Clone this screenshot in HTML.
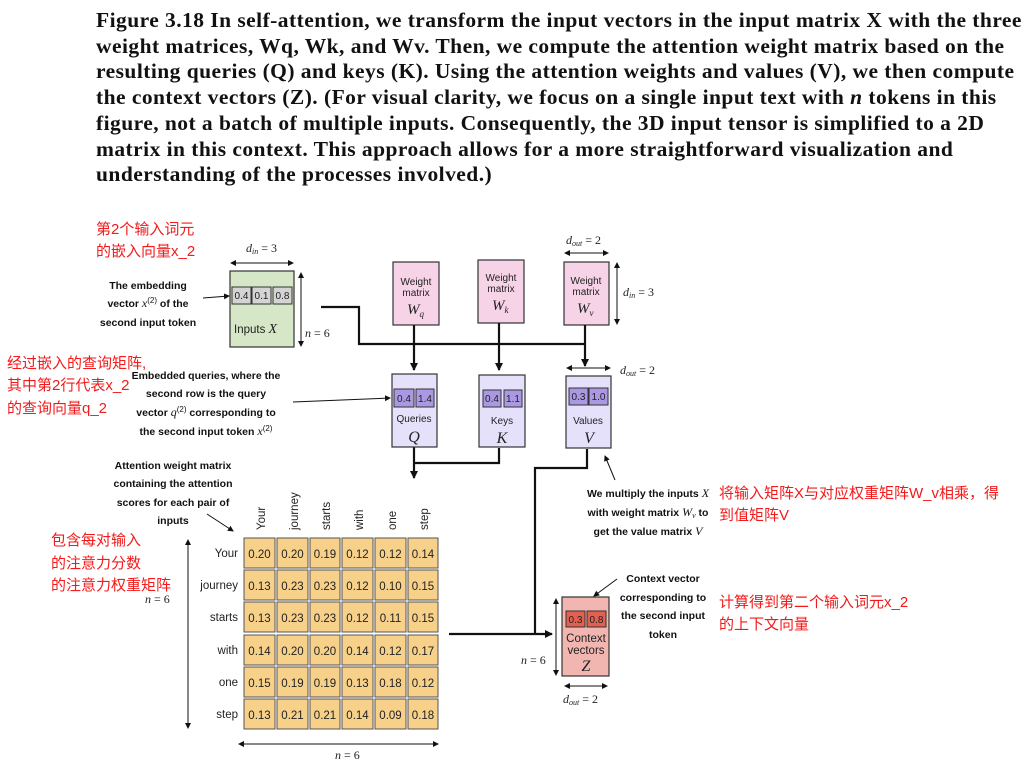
<!DOCTYPE html>
<html><head><meta charset="utf-8"><style>
html,body{margin:0;padding:0;background:#fff;width:1026px;height:766px;overflow:hidden}
#t{position:absolute;left:96px;top:8px;font:bold 21.5px/25.7px "Liberation Serif",serif;color:#111;white-space:nowrap;letter-spacing:0.45px}
svg{position:absolute;left:0;top:0}
.a{font:bold 10.5px "Liberation Sans",sans-serif;fill:#111}
.r{font:15px "Liberation Sans","Noto Sans CJK SC",sans-serif;fill:#f21a1a}
.s{font:10px "Liberation Sans",sans-serif;fill:#222}
.m{font:italic 12px "Liberation Serif",serif;fill:#222}
.c{font:11.5px "Liberation Sans",sans-serif;fill:#222}
</style></head><body>
<div id="t">Figure 3.18 In self-attention, we transform the input vectors in the input matrix X with the three<br>weight matrices, Wq, Wk, and Wv. Then, we compute the attention weight matrix based on the<br>resulting queries (Q) and keys (K). Using the attention weights and values (V), we then compute<br>the context vectors (Z). (For visual clarity, we focus on a single input text with <i>n</i> tokens in this<br>figure, not a batch of multiple inputs. Consequently, the 3D input tensor is simplified to a 2D<br>matrix in this context. This approach allows for a more straightforward visualization and<br>understanding of the processes involved.)</div>
<svg width="1026" height="766" viewBox="0 0 1026 766">
<defs>
<marker id="ah" markerWidth="8" markerHeight="8" refX="7" refY="4" orient="auto" markerUnits="userSpaceOnUse"><path d="M0,0 L8,4 L0,8 z" fill="#111"/></marker>
<marker id="as" markerWidth="6" markerHeight="6" refX="5" refY="3" orient="auto-start-reverse" markerUnits="userSpaceOnUse"><path d="M0,0 L6,3 L0,6 z" fill="#111"/></marker>
</defs>
<text class="r" x="96" y="234">第2个输入词元</text>
<text class="r" x="96" y="256">的嵌入向量x_2</text>
<text class="r" x="7" y="368">经过嵌入的查询矩阵,</text>
<text class="r" x="7" y="390">其中第2行代表x_2</text>
<text class="r" x="7" y="413">的查询向量q_2</text>
<text class="r" x="51" y="545">包含每对输入</text>
<text class="r" x="51" y="568">的注意力分数</text>
<text class="r" x="51" y="590">的注意力权重矩阵</text>
<text class="r" x="719" y="498">将输入矩阵X与对应权重矩阵W_v相乘，得</text>
<text class="r" x="719" y="520">到值矩阵V</text>
<text class="r" x="719" y="607">计算得到第二个输入词元x_2</text>
<text class="r" x="719" y="629">的上下文向量</text>
<g class="a" text-anchor="middle">
<text x="148" y="289">The embedding</text>
<text x="148" y="307">vector <tspan font-family="Liberation Serif" font-style="italic" font-weight="normal" font-size="12">x</tspan><tspan font-weight="normal" dy="-4" font-size="8">(2)</tspan><tspan dy="4"> of the</tspan></text>
<text x="148" y="326">second input token</text>
<text x="206" y="379">Embedded queries, where the</text>
<text x="206" y="397">second row is the query</text>
<text x="206" y="416">vector <tspan font-family="Liberation Serif" font-style="italic" font-weight="normal" font-size="12">q</tspan><tspan font-weight="normal" dy="-4" font-size="8">(2)</tspan><tspan dy="4"> corresponding to</tspan></text>
<text x="206" y="435">the second input token <tspan font-family="Liberation Serif" font-style="italic" font-weight="normal" font-size="12">x</tspan><tspan font-weight="normal" dy="-4" font-size="8">(2)</tspan></text>
<text x="173" y="469">Attention weight matrix</text>
<text x="173" y="487">containing the attention</text>
<text x="173" y="506">scores for each pair of</text>
<text x="173" y="524">inputs</text>
<text x="648" y="497">We multiply the inputs <tspan font-family="Liberation Serif" font-style="italic" font-weight="normal" font-size="12">X</tspan></text>
<text x="648" y="516">with weight matrix <tspan font-family="Liberation Serif" font-style="italic" font-weight="normal" font-size="12">W</tspan><tspan font-family="Liberation Serif" font-style="italic" font-weight="normal" font-size="8" dy="2">v</tspan><tspan dy="-2"> to</tspan></text>
<text x="648" y="535">get the value matrix <tspan font-family="Liberation Serif" font-style="italic" font-weight="normal" font-size="12">V</tspan></text>
<text x="663" y="582">Context vector</text>
<text x="663" y="601">corresponding to</text>
<text x="663" y="619">the second input</text>
<text x="663" y="638">token</text>
</g>
<g stroke="#111" stroke-width="1" fill="none">
<line x1="203" y1="298" x2="229" y2="296" marker-end="url(#as)"/>
<line x1="293" y1="402" x2="390" y2="398" marker-end="url(#as)"/>
<line x1="207" y1="514" x2="233" y2="531" marker-end="url(#as)"/>
<line x1="615" y1="480" x2="605" y2="456" marker-end="url(#as)"/>
<line x1="617" y1="579" x2="594" y2="596" marker-end="url(#as)"/>
</g>
<rect x="230" y="271" width="64" height="76" fill="#d6e7c7" stroke="#333" stroke-width="1.2"/>
<g fill="#d4d4d4" stroke="#333" stroke-width="1"><rect x="232" y="287" width="19" height="17"/><rect x="252" y="287" width="19" height="17"/><rect x="273" y="287" width="19" height="17"/></g>
<g class="s" text-anchor="middle"><text x="241.5" y="299">0.4</text><text x="261.5" y="299">0.1</text><text x="282.5" y="299">0.8</text></g>
<text class="c" x="234" y="333">Inputs <tspan font-family="Liberation Serif" font-style="italic" font-size="14">X</tspan></text>
<text class="m" x="246" y="252">d<tspan font-size="8" dy="2">in</tspan><tspan dy="-2" font-style="normal"> = 3</tspan></text>
<line x1="231" y1="263" x2="293" y2="263" stroke="#111" marker-start="url(#as)" marker-end="url(#as)"/>
<line x1="301" y1="273" x2="301" y2="346" stroke="#111" marker-start="url(#as)" marker-end="url(#as)"/>
<text class="m" x="305" y="337">n<tspan font-style="normal"> = 6</tspan></text>
<g fill="#f6d3e6" stroke="#333" stroke-width="1.2">
<rect x="393" y="262" width="46" height="63"/><rect x="478" y="260" width="46" height="63"/><rect x="564" y="262" width="45" height="63"/>
</g>
<g class="s" text-anchor="middle">
<text x="416" y="285">Weight</text><text x="416" y="296">matrix</text>
<text x="501" y="281">Weight</text><text x="501" y="292">matrix</text>
<text x="586" y="284">Weight</text><text x="586" y="295">matrix</text>
</g>
<g font-family="Liberation Serif" font-style="italic" font-size="15" fill="#222">
<text x="407" y="314">W<tspan font-size="9" dy="3">q</tspan></text>
<text x="492" y="310">W<tspan font-size="9" dy="3">k</tspan></text>
<text x="577" y="313">W<tspan font-size="9" dy="3">v</tspan></text>
</g>
<text class="m" x="566" y="244">d<tspan font-size="8" dy="2">out</tspan><tspan dy="-2" font-style="normal"> = 2</tspan></text>
<line x1="565" y1="253" x2="608" y2="253" stroke="#111" marker-start="url(#as)" marker-end="url(#as)"/>
<line x1="617" y1="263" x2="617" y2="324" stroke="#111" marker-start="url(#as)" marker-end="url(#as)"/>
<text class="m" x="623" y="296">d<tspan font-size="8" dy="2">in</tspan><tspan dy="-2" font-style="normal"> = 3</tspan></text>
<g stroke="#111" stroke-width="2.2" fill="none">
<polyline points="321,307 359,307 359,344 585,344"/>
<line x1="414" y1="325" x2="414" y2="370" marker-end="url(#ah)"/>
<line x1="499" y1="323" x2="499" y2="370" marker-end="url(#ah)"/>
<line x1="585" y1="325" x2="585" y2="366" marker-end="url(#ah)"/>
<line x1="414" y1="447" x2="414" y2="478" marker-end="url(#ah)"/>
<polyline points="499,448 499,463 414,463"/>
<polyline points="587,449 587,468 535,468 535,634"/>
<line x1="449" y1="634" x2="552" y2="634" marker-end="url(#ah)"/>
</g>
<g fill="#e5e1fb" stroke="#333" stroke-width="1.2">
<rect x="392" y="374" width="45" height="73"/><rect x="479" y="375" width="46" height="72"/><rect x="566" y="376" width="45" height="72"/>
</g>
<g fill="#ab98e2" stroke="#333" stroke-width="1">
<rect x="394" y="389" width="20" height="18"/><rect x="416" y="389" width="18" height="18"/>
<rect x="483" y="390" width="18" height="17"/><rect x="504" y="390" width="18" height="17"/>
<rect x="569" y="388" width="19" height="17"/><rect x="589" y="388" width="19" height="17"/>
</g>
<g class="s" text-anchor="middle">
<text x="404" y="402">0.4</text><text x="425" y="402">1.4</text>
<text x="492" y="402">0.4</text><text x="513" y="402">1.1</text>
<text x="578.5" y="400">0.3</text><text x="598.5" y="400">1.0</text>
<text x="414" y="422">Queries</text><text x="502" y="424">Keys</text><text x="588" y="424">Values</text>
</g>
<g font-family="Liberation Serif" font-style="italic" font-size="16" fill="#222" text-anchor="middle">
<text x="414" y="442">Q</text><text x="502" y="443">K</text><text x="589" y="443">V</text>
</g>
<line x1="567" y1="368" x2="610" y2="368" stroke="#111" marker-start="url(#as)" marker-end="url(#as)"/>
<text class="m" x="620" y="374">d<tspan font-size="8" dy="2">out</tspan><tspan dy="-2" font-style="normal"> = 2</tspan></text>
<g fill="#f7d08a" stroke="#555" stroke-width="1">
<rect x="244" y="538" width="31" height="30"/><rect x="277" y="538" width="31" height="30"/><rect x="310" y="538" width="30" height="30"/><rect x="342" y="538" width="31" height="30"/><rect x="375" y="538" width="31" height="30"/><rect x="408" y="538" width="30" height="30"/>
<rect x="244" y="570" width="31" height="30"/><rect x="277" y="570" width="31" height="30"/><rect x="310" y="570" width="30" height="30"/><rect x="342" y="570" width="31" height="30"/><rect x="375" y="570" width="31" height="30"/><rect x="408" y="570" width="30" height="30"/>
<rect x="244" y="602" width="31" height="30"/><rect x="277" y="602" width="31" height="30"/><rect x="310" y="602" width="30" height="30"/><rect x="342" y="602" width="31" height="30"/><rect x="375" y="602" width="31" height="30"/><rect x="408" y="602" width="30" height="30"/>
<rect x="244" y="635" width="31" height="30"/><rect x="277" y="635" width="31" height="30"/><rect x="310" y="635" width="30" height="30"/><rect x="342" y="635" width="31" height="30"/><rect x="375" y="635" width="31" height="30"/><rect x="408" y="635" width="30" height="30"/>
<rect x="244" y="667" width="31" height="30"/><rect x="277" y="667" width="31" height="30"/><rect x="310" y="667" width="30" height="30"/><rect x="342" y="667" width="31" height="30"/><rect x="375" y="667" width="31" height="30"/><rect x="408" y="667" width="30" height="30"/>
<rect x="244" y="699" width="31" height="30"/><rect x="277" y="699" width="31" height="30"/><rect x="310" y="699" width="30" height="30"/><rect x="342" y="699" width="31" height="30"/><rect x="375" y="699" width="31" height="30"/><rect x="408" y="699" width="30" height="30"/>
</g>
<g class="c" text-anchor="middle">
<text x="259.5" y="558">0.20</text><text x="292.5" y="558">0.20</text><text x="325" y="558">0.19</text><text x="357.5" y="558">0.12</text><text x="390.5" y="558">0.12</text><text x="423" y="558">0.14</text>
<text x="259.5" y="590">0.13</text><text x="292.5" y="590">0.23</text><text x="325" y="590">0.23</text><text x="357.5" y="590">0.12</text><text x="390.5" y="590">0.10</text><text x="423" y="590">0.15</text>
<text x="259.5" y="622">0.13</text><text x="292.5" y="622">0.23</text><text x="325" y="622">0.23</text><text x="357.5" y="622">0.12</text><text x="390.5" y="622">0.11</text><text x="423" y="622">0.15</text>
<text x="259.5" y="655">0.14</text><text x="292.5" y="655">0.20</text><text x="325" y="655">0.20</text><text x="357.5" y="655">0.14</text><text x="390.5" y="655">0.12</text><text x="423" y="655">0.17</text>
<text x="259.5" y="687">0.15</text><text x="292.5" y="687">0.19</text><text x="325" y="687">0.19</text><text x="357.5" y="687">0.13</text><text x="390.5" y="687">0.18</text><text x="423" y="687">0.12</text>
<text x="259.5" y="719">0.13</text><text x="292.5" y="719">0.21</text><text x="325" y="719">0.21</text><text x="357.5" y="719">0.14</text><text x="390.5" y="719">0.09</text><text x="423" y="719">0.18</text>
</g>
<g class="c" text-anchor="end">
<text x="238" y="557">Your</text><text x="238" y="589">journey</text><text x="238" y="621">starts</text><text x="238" y="654">with</text><text x="238" y="686">one</text><text x="238" y="718">step</text>
</g>
<g class="c">
<text transform="translate(265,530) rotate(-90)">Your</text>
<text transform="translate(298,530) rotate(-90)">journey</text>
<text transform="translate(330,530) rotate(-90)">starts</text>
<text transform="translate(363,530) rotate(-90)">with</text>
<text transform="translate(396,530) rotate(-90)">one</text>
<text transform="translate(428,530) rotate(-90)">step</text>
</g>
<line x1="188" y1="540" x2="188" y2="728" stroke="#111" marker-start="url(#as)" marker-end="url(#as)"/>
<text class="m" x="145" y="603">n<tspan font-style="normal"> = 6</tspan></text>
<line x1="239" y1="744" x2="438" y2="744" stroke="#111" marker-start="url(#as)" marker-end="url(#as)"/>
<text class="m" x="335" y="759">n<tspan font-style="normal"> = 6</tspan></text>
<rect x="562" y="597" width="47" height="79" fill="#f2b6b1" stroke="#333" stroke-width="1.2"/>
<g fill="#e2604f" stroke="#333" stroke-width="1"><rect x="566" y="611" width="19" height="16"/><rect x="587" y="611" width="19" height="16"/></g>
<g class="s" text-anchor="middle"><text x="575.5" y="623">0.3</text><text x="596.5" y="623">0.8</text></g>
<g class="c" text-anchor="middle" font-size="11"><text x="586" y="642">Context</text><text x="586" y="654">vectors</text></g>
<text x="586" y="671" text-anchor="middle" font-family="Liberation Serif" font-style="italic" font-size="16" fill="#222">Z</text>
<line x1="556" y1="599" x2="556" y2="675" stroke="#111" marker-start="url(#as)" marker-end="url(#as)"/>
<text class="m" x="521" y="664">n<tspan font-style="normal"> = 6</tspan></text>
<line x1="565" y1="686" x2="607" y2="686" stroke="#111" marker-start="url(#as)" marker-end="url(#as)"/>
<text class="m" x="563" y="703">d<tspan font-size="8" dy="2">out</tspan><tspan dy="-2" font-style="normal"> = 2</tspan></text>
</svg>
</body></html>
